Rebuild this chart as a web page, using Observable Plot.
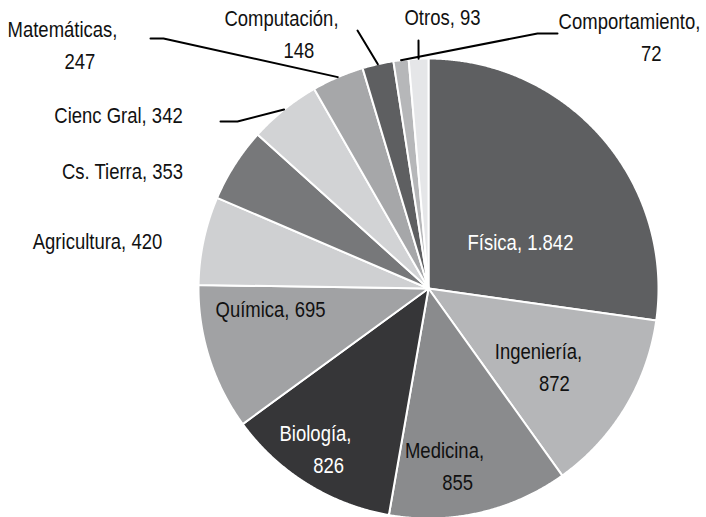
<!DOCTYPE html>
<html>
<head>
<meta charset="utf-8">
<script src="https://cdn.jsdelivr.net/npm/d3@7"></script>
<script src="https://cdn.jsdelivr.net/npm/@observablehq/plot@0.6"></script>
<style>
  html, body { margin: 0; padding: 0; background: #fff; }
  #chart { width: 706px; height: 517px; }
</style>
</head>
<body>
<div id="chart"></div>
<script>
// ---- data (clockwise from 12 o'clock) ----
const categories = ["Física", "Ingeniería", "Medicina", "Biología", "Química", "Agricultura",
  "Cs. Tierra", "Cienc Gral", "Matemáticas", "Computación", "Comportamiento", "Otros"];
const values = [1842, 872, 855, 826, 695, 420, 353, 342, 247, 148, 72, 93];

// ---- styles ----
const colors = ["#5e5f61", "#b5b6b8", "#8a8b8d", "#363638", "#a1a2a4", "#cfd0d2",
  "#77787a", "#d2d3d5", "#a6a7a9", "#5e5f61", "#b6b7b9", "#e5e6e8"];
const textColors = ["#fff", "#111", "#111", "#fff", "#111", "#111",
  "#111", "#111", "#111", "#111", "#111", "#111"];

// ---- layout (pixels) ----
const W = 706, H = 517, CX = 428, CY = 288, R = 230;
const FONT = "'Liberation Sans', Arial, sans-serif", FS = 21.5, SQUEEZE = 0.86;
// label anchor (center of first line), two-line flag
const labelX = [520, 538, 444, 315, 270, 97, 122, 118, 62, 281, 629, 442];
const labelY = [243, 352, 451, 434, 310, 242, 172, 116, 30, 19, 22, 18];
const twoLine = [false, true, true, true, false, false, false, false, true, true, true, false];
// leader lines: [elbow, end] per category index
const leaders = {
  7: [[237, 121], [220, 121]],
  8: [[163, 38], [150, 38]],
  9: [[357, 30]],
  10: [[537, 33], [557, 33]],
  11: [[418, 40]]
};

const es = d3.formatLocale({decimal: ",", thousands: ".", grouping: [3], currency: ["", "€"]});
const fmt = es.format(",d");

const total = d3.sum(values);
let acc = 0;
const slices = values.map((v, i) => {
  const a0 = acc / total * 2 * Math.PI;
  acc += v;
  const a1 = acc / total * 2 * Math.PI;
  const pts = [{x: CX, y: CY}];
  const n = Math.max(2, Math.ceil((a1 - a0) / 0.005));
  for (let k = 0; k <= n; k++) {
    const a = a0 + (a1 - a0) * k / n;
    pts.push({x: CX + R * Math.sin(a), y: CY - R * Math.cos(a)});
  }
  pts.push({x: CX, y: CY});
  return {name: categories[i], value: v, color: colors[i], mid: (a0 + a1) / 2, pts};
});

const textRows = [];
slices.forEach((s, i) => {
  if (twoLine[i]) {
    const l1 = s.name + ",";
    textRows.push({x: labelX[i], y: labelY[i], t: l1, c: textColors[i]});
    textRows.push({x: labelX[i] + l1.length * 1.45, y: labelY[i] + 32, t: fmt(s.value), c: textColors[i]});
  } else {
    textRows.push({x: labelX[i], y: labelY[i], t: s.name + ", " + fmt(s.value), c: textColors[i]});
  }
});

const leaderMarks = Object.entries(leaders).map(([i, rest]) => {
  const s = slices[+i];
  const start = [CX + R * Math.sin(s.mid), CY - R * Math.cos(s.mid)];
  const pts = [start, ...rest].map(([x, y]) => ({x, y}));
  return Plot.line(pts, {x: "x", y: "y", stroke: "#000", strokeWidth: 2});
});

const chart = Plot.plot({
  width: W, height: H,
  margin: 0,
  x: {domain: [0, W], range: [0, W], axis: null},
  y: {domain: [0, H], range: [0, H], axis: null},
  style: {fontFamily: FONT, background: "#fff"},
  marks: [
    ...slices.map(s => Plot.line(s.pts, {x: "x", y: "y", fill: s.color, stroke: "#fff", strokeWidth: 2, strokeLinejoin: "round"})),
    ...leaderMarks,
    Plot.text(textRows, {x: "x", y: "y", text: "t", fill: d => d.c, fontSize: FS, fontFamily: FONT})
  ]
});

// condense label glyphs horizontally around their own anchor
chart.querySelectorAll("text").forEach(t => {
  const tr = t.getAttribute("transform");
  if (tr) {
    t.setAttribute("transform", tr + ` scale(${SQUEEZE},1)`);
  } else {
    const x = +t.getAttribute("x") || 0, y = +t.getAttribute("y") || 0;
    t.setAttribute("x", 0); t.setAttribute("y", 0);
    t.setAttribute("transform", `translate(${x},${y}) scale(${SQUEEZE},1)`);
  }
});
document.getElementById("chart").appendChild(chart);
</script>
</body>
</html>
